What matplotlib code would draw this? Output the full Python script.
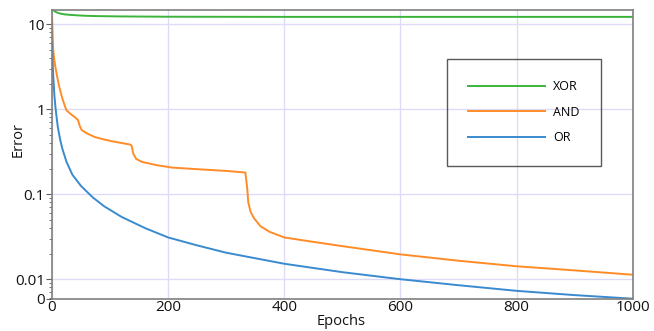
import matplotlib
matplotlib.use("Agg")
import matplotlib.pyplot as plt
from matplotlib.ticker import LogLocator, NullFormatter

# ---- data ----
xor_epochs = [0, 3, 6, 10, 15, 22, 30, 45, 60, 80, 120, 200, 400, 600, 800, 1000]
xor_error = [15.0, 14.5, 14.0, 13.6, 13.3, 13.05, 12.9, 12.7, 12.55, 12.45, 12.35,
             12.25, 12.2, 12.2, 12.2, 12.2]

and_epochs = [0, 1, 2, 4, 6, 8, 12, 17, 21, 25, 32, 40, 45, 46, 48, 51, 60, 74, 90,
              103, 120, 134, 137, 140, 145, 155, 180, 206, 250, 300, 333, 336, 338,
              342, 348, 359, 375, 400, 450, 500, 600, 700, 800, 900, 1000]
and_error = [12.0, 8.0, 5.0, 3.8, 3.1, 2.6, 1.9, 1.4, 1.15, 0.97, 0.88, 0.8, 0.74,
             0.70, 0.63, 0.57, 0.52, 0.47, 0.44, 0.42, 0.40, 0.385, 0.375, 0.30,
             0.26, 0.24, 0.22, 0.206, 0.197, 0.188, 0.18, 0.12, 0.08, 0.062, 0.052,
             0.042, 0.036, 0.031, 0.0275, 0.0245, 0.0196, 0.0165, 0.0142, 0.0127,
             0.0113]

or_epochs = [0, 2, 4, 6, 8, 10, 14, 18, 25, 35, 50, 70, 90, 120, 160, 200, 250, 300,
             400, 500, 600, 700, 800, 900, 1000]
or_error = [6.0, 2.6, 1.5, 1.05, 0.8, 0.62, 0.44, 0.34, 0.24, 0.17, 0.125, 0.092,
            0.072, 0.054, 0.04, 0.031, 0.025, 0.0205, 0.0152, 0.0121, 0.0100,
            0.0085, 0.0073, 0.0065, 0.0059]

series_labels = ["XOR", "AND", "OR"]
y_tick_values = [0.0059, 0.01, 0.1, 1, 10]
y_tick_labels = ["0", "0.01", "0.1", "1", "10"]
x_tick_values = [0, 200, 400, 600, 800, 1000]

plt.rcParams['font.family'] = ['Open Sans', 'DejaVu Sans']

fig = plt.figure(figsize=(6.54, 3.31), dpi=100)
ax = fig.add_axes([0.0795, 0.0976, 0.888, 0.8722])

ax.plot(xor_epochs, xor_error, color='#3cb43c', lw=1.4, label=series_labels[0])
ax.plot(and_epochs, and_error, color='#ff8c26', lw=1.4, label=series_labels[1])
ax.plot(or_epochs, or_error, color='#3a8ad0', lw=1.4, label=series_labels[2])

ax.set_yscale('log')
ax.set_xlim(0, 1000)
ax.set_ylim(0.0059, 14.7)

ax.set_yticks(y_tick_values)
ax.set_yticklabels(y_tick_labels)
ax.yaxis.set_minor_locator(LogLocator(base=10, subs=range(2, 10), numticks=20))
ax.yaxis.set_minor_formatter(NullFormatter())
ax.set_xticks(x_tick_values)

ax.grid(True, which='major', color='#dcdcf8', lw=1.0)
ax.set_axisbelow(True)

for s in ax.spines.values():
    s.set_color('#808080')
    s.set_linewidth(1.2)

ax.tick_params(axis='y', which='major', labelsize=11, color='#606060',
               length=4, width=0.8, pad=1, labelcolor='#111111')
ax.tick_params(axis='x', which='major', labelsize=11, length=0, pad=1,
               labelcolor='#111111')
ax.tick_params(axis='y', which='minor', color='#606060', length=2.5, width=0.6)

ax.set_xlabel("Epochs", fontsize=10.5, color='#111111', va='center')
ax.set_ylabel("Error", fontsize=10.5, color='#111111', va='center')
ax.xaxis.set_label_coords(0.497, -0.08)
ax.yaxis.set_label_coords(-0.0585, 0.55)

leg = ax.legend(loc='upper left', bbox_to_anchor=(447 / 654, 1 - 59 / 331),
                bbox_transform=fig.transFigure, fontsize=9, frameon=True,
                fancybox=False, handlelength=6.1, handletextpad=0.7,
                labelspacing=1.0, borderpad=1.7, borderaxespad=0,
                alignment='left')
frame = leg.get_frame()
frame.set_facecolor('none')
frame.set_edgecolor('#303030')
frame.set_linewidth(1.0)

fig.savefig("out.png", dpi=100)
